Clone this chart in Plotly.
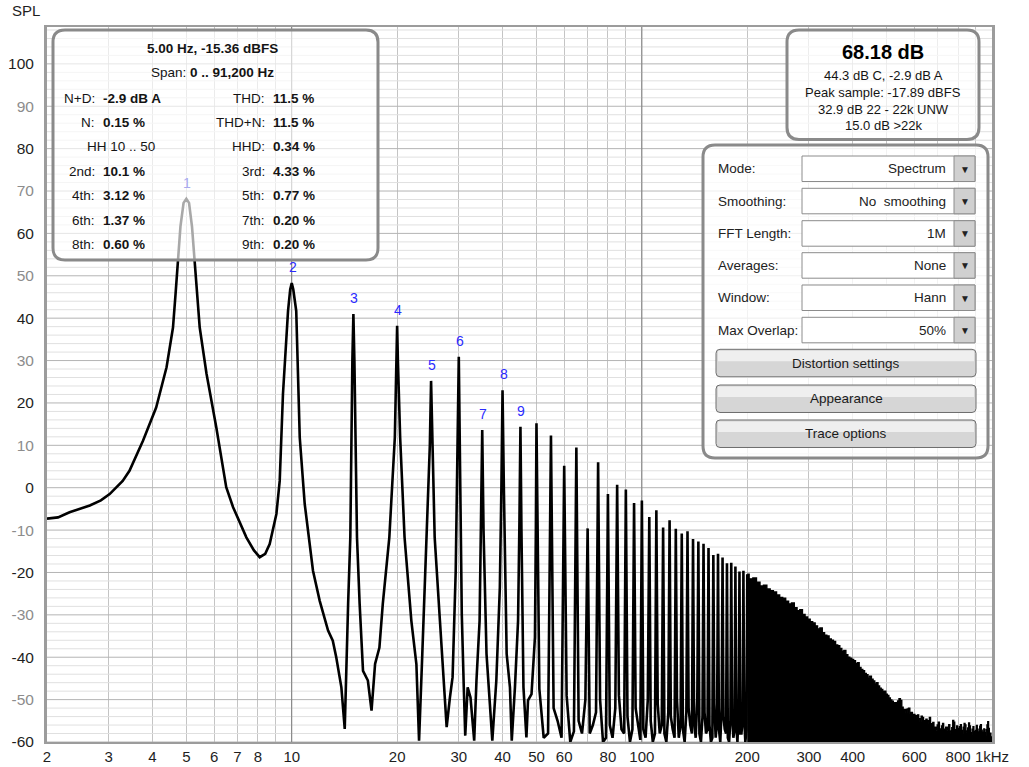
import math
import plotly.graph_objects as go

# ---------------- data ----------------
F0 = 5.0  # fundamental, Hz

# low-frequency part of the spectrum (2 .. 50 Hz), frequency in Hz, level in dB
lf_freq = [2.0, 2.15, 2.32, 2.65, 2.85, 3.02, 3.29, 3.44, 3.76, 4.10, 4.39, 4.58, 4.66, 4.73,
           4.81, 4.91, 5.0, 5.09, 5.19, 5.28, 5.37, 5.46, 5.71, 6.09, 6.5, 6.8, 7.42, 7.8,
           8.1, 8.4, 8.65, 9.04, 9.24, 9.44, 9.76, 9.9, 10.0, 10.1, 10.3, 10.54, 10.89, 11.5,
           12.02, 12.7, 13.1, 13.4, 13.86, 14.17, 14.49, 14.7, 14.9, 15.0, 15.1, 15.36, 15.63,
           15.98, 16.5, 16.9, 17.3, 17.8, 18.2, 19.0, 19.7, 19.9, 20.0, 20.1, 20.4, 21.0, 21.96,
           22.7, 23.1, 23.6, 24.2, 24.8, 25.0, 25.2, 25.6, 26.5, 27.1, 27.7, 28.3, 28.8, 29.4,
           29.75, 30.0, 30.25, 30.6, 31.0, 31.3, 31.8, 32.4, 33.2, 33.7, 34.4, 34.75, 35.0,
           35.3, 36.0, 36.8, 37.4, 38.4, 39.3, 39.7, 40.0, 40.35, 41.1, 42.0, 42.5, 43.4,
           44.3, 44.7, 45.0, 45.3, 45.9, 46.8, 47.3, 48.4, 49.5, 49.8]
lf_db = [-7.3, -7.0, -5.8, -4.2, -3.0, -1.5, 1.6, 4.0, 11.1, 18.9, 28.4, 37.8, 45.9, 53.5,
         61.6, 67.2, 68.18, 67.2, 61.6, 53.5, 45.0, 37.8, 26.9, 14.2, 0.1, -4.6, -11.7, -14.8,
         -16.4, -15.6, -13.3, -6.2, 1.6, 22.1, 41.7, 46.8, 48.3, 46.8, 41.7, 11.9, -3.8, -19.6,
         -26.7, -33.7, -36.1, -40.0, -47.1, -56.9, -27.4, -11.7, 30.0, 41.0, 30.0, -11.7, -27.4,
         -43.2, -45.5, -52.6, -41.6, -37.7, -27.4, -11.7, 11.9, 30.0, 38.2, 30.0, 11.9, -11.7,
         -31.4, -41.6, -59.7, -39.2, -11.7, 10.0, 25.2, 10.0, -11.7, -31.4, -43.2, -56.5, -49.5,
         -44.7, -19.6, 5.0, 30.9, 5.0, -30.0, -47.1, -58.5, -47.1, -49.5, -59.7, -45.5, -31.4,
         -5.0, 13.6, -10.0, -39.2, -51.0, -59.7, -45.5, -23.5, 0.0, 23.0, 0.0, -39.2, -47.1,
         -59.7, -47.1, -31.4, -8.0, 14.4, -10.0, -47.1, -58.9, -50.2, -48.7, -35.3, -10.0]

# harmonic peaks n = 10 .. 40 (50 .. 200 Hz), dB
mid_peak_db = [15.2, 12.3, 5.2, 9.5, -9.6, 6.0, -1.5, 0.7, -0.4, -3.6,
               -3.0, -6.9, -5.3, -9.4, -7.7, -9.7, -10.8, -10.3, -12.1, -12.7,
               -13.2, -14.2, -15.9, -15.6, -16.5, -17.8, -17.7, -18.6, -19.8, -19.6,
               -20.4]
# noise floor between harmonics n and n+1 (n = 10 .. 39), three readings per gap, dB
floor_a = [-47.5, -52, -49, -55, -58, -50, -56, -49, -54, -52,
           -57, -55, -51, -58, -54, -50, -57, -52, -55, -58,
           -53, -56, -51, -57, -54, -59, -53, -56, -58, -54]
floor_m = [-59, -55, -60, -58, -56, -60, -59, -57, -60, -56,
           -59, -60, -58, -60, -57, -59, -60, -56, -59, -60,
           -58, -60, -59, -60, -57, -60, -59, -60, -58, -60]
floor_b = [-58, -59, -57.5, -50, -53, -59, -52, -58, -57, -59.5,
           -50, -58, -56, -53, -59, -56, -53, -58, -50, -54,
           -57, -59, -55, -52, -58, -55, -57, -52, -55, -57]
# top of the dense harmonic block, harmonics n = 41 .. 200 (205 .. 1000 Hz), dB
env_db = [-21.5, -21.3, -22.3, -23.2, -23.0, -23.9, -24.3, -24.6, -25.3, -25.9,
          -26.1, -26.8, -27.4, -27.2, -28.3, -29.0, -28.8, -29.9, -30.5, -31.0,
          -31.6, -31.9, -32.6, -33.3, -33.1, -34.2, -34.8, -35.0, -35.7, -36.0,
          -36.3, -37.1, -37.3, -37.9, -38.6, -38.4, -39.4, -40.0, -40.2, -40.5,
          -40.8, -41.5, -41.3, -42.4, -42.9, -43.2, -43.8, -44.1, -44.7, -44.5,
          -45.2, -45.6, -46.3, -46.0, -46.8, -47.3, -47.6, -48.1, -48.0, -48.7,
          -49.0, -49.6, -50.1, -50.4, -51.0, -50.7, -51.5, -50.3, -49.8, -50.2,
          -51.8, -52.6, -52.3, -53.2, -52.2, -52.0, -53.4, -53.0, -54.1, -53.5,
          -54.3, -53.8, -53.6, -54.5, -55.2, -53.9, -54.2, -55.6, -55.0, -54.6,
          -55.8, -55.0, -54.2, -55.7, -56.3, -55.4, -56.8, -56.5, -57.2, -56.0,
          -55.3, -56.9, -57.5, -56.2, -55.6, -57.0, -57.8, -56.5, -57.2, -56.5,
          -55.9, -57.4, -58.0, -56.6, -54.9, -55.3, -57.1, -57.6, -56.2, -56.8,
          -57.5, -56.4, -55.9, -57.3, -58.1, -56.5, -55.6, -56.0, -57.4, -57.9,
          -56.7, -55.5, -56.2, -57.8, -58.3, -57.0, -56.4, -57.5, -58.2, -57.3,
          -56.1, -57.0, -58.4, -57.6, -56.3, -55.9, -57.2, -58.0, -57.7, -56.9,
          -57.8, -58.5, -57.1, -56.0, -55.2, -56.8, -58.6, -57.9, -58.8, -59.5]

x_labeled = {2: "2", 3: "3", 4: "4", 5: "5", 6: "6", 7: "7", 8: "8", 10: "10", 20: "20",
             30: "30", 40: "40", 50: "50", 60: "60", 80: "80", 100: "100", 200: "200",
             300: "300", 400: "400", 600: "600", 800: "800", 1000: "1kHz"}
Y_MIN, Y_MAX = -60, 108.7
X_MIN, X_MAX = 2, 1000

panel1_title = "5.00 Hz, -15.36 dBFS"
panel1_span = ("Span:", "0 .. 91,200 Hz")
panel1_rows = [("N+D:", "-2.9 dB A", "THD:", "11.5 %"),
               ("N:", "0.15 %", "THD+N:", "11.5 %"),
               ("HH 10 .. 50", None, "HHD:", "0.34 %"),
               ("2nd:", "10.1 %", "3rd:", "4.33 %"),
               ("4th:", "3.12 %", "5th:", "0.77 %"),
               ("6th:", "1.37 %", "7th:", "0.20 %"),
               ("8th:", "0.60 %", "9th:", "0.20 %")]
panel2_big = "68.18 dB"
panel2_lines = ["44.3 dB C, -2.9 dB A", "Peak sample: -17.89 dBFS",
                "32.9 dB 22 - 22k UNW", "15.0 dB >22k"]
controls = [("Mode:", "Spectrum"), ("Smoothing:", "No  smoothing"), ("FFT Length:", "1M"),
            ("Averages:", "None"), ("Window:", "Hann"), ("Max Overlap:", "50%")]
buttons = ["Distortion settings", "Appearance", "Trace options"]

# ---------------- layout geometry (pixels) ----------------
W, H = 1029, 767
PL, PR, PT, PB = 47, 992, 27, 742
FONT = "Liberation Sans, Arial, sans-serif"


def xp(px):
    return (px - PL) / (PR - PL)


def yp(py):
    return (PB - py) / (PB - PT)


def rrect(x0, y0, x1, y1, r):
    pts = [("M", x0 + r, y0), ("L", x1 - r, y0), ("Q", x1, y0, x1, y0 + r),
           ("L", x1, y1 - r), ("Q", x1, y1, x1 - r, y1), ("L", x0 + r, y1),
           ("Q", x0, y1, x0, y1 - r), ("L", x0, y0 + r), ("Q", x0, y0, x0 + r, y0)]
    s = ""
    for p in pts:
        cmd, coords = p[0], p[1:]
        pairs = [f"{xp(coords[i]):.5f},{yp(coords[i + 1]):.5f}" for i in range(0, len(coords), 2)]
        s += cmd + " " + " ".join(pairs) + " "
    return s + "Z"


# ---------------- build traces ----------------
fig = go.Figure()

# minor horizontal grid (every 2 dB) and major (every 10 dB)
gx, gy, mx, my = [], [], [], []
for v in range(-60, 109, 2):
    if v % 10 == 0:
        mx += [X_MIN, X_MAX, None]
        my += [v, v, None]
    else:
        gx += [X_MIN, X_MAX, None]
        gy += [v, v, None]
fig.add_trace(go.Scatter(x=gx, y=gy, mode="lines", line=dict(color="#e0e0e0", width=1),
                         hoverinfo="skip", showlegend=False))
fig.add_trace(go.Scatter(x=mx, y=my, mode="lines", line=dict(color="#b4b4b4", width=1),
                         hoverinfo="skip", showlegend=False))
# darker decade lines
fig.add_trace(go.Scatter(x=[10, 10, None, 100, 100], y=[Y_MIN, Y_MAX, None, Y_MIN, Y_MAX],
                         mode="lines", line=dict(color="#7c7c7c", width=1),
                         hoverinfo="skip", showlegend=False))

# spectrum line up to 200 Hz
xa, ya = list(lf_freq), list(lf_db)
for i, n in enumerate(range(10, 40)):
    f0, f1 = F0 * n, F0 * (n + 1)
    r = f1 / f0
    xa += [f0, f0 * r ** 0.2, f0 * r ** 0.5, f0 * r ** 0.8]
    ya += [mid_peak_db[i], floor_a[i], floor_m[i], floor_b[i]]
xa.append(F0 * 40)
ya.append(mid_peak_db[-1])
fig.add_trace(go.Scatter(x=xa, y=ya, mode="lines", line=dict(color="black", width=2.6),
                         hoverinfo="skip", showlegend=False))

# dense harmonic block 200 Hz .. 1 kHz
xd = [F0 * 40] + [F0 * n for n in range(41, 41 + len(env_db))]
yd = [mid_peak_db[-1]] + env_db
fig.add_trace(go.Scatter(x=[xd[0], xd[-1]], y=[Y_MIN - 1, Y_MIN - 1], mode="lines",
                         line=dict(color="black", width=0), hoverinfo="skip", showlegend=False))
fig.add_trace(go.Scatter(x=xd, y=yd, mode="lines", line=dict(color="black", width=1.4, shape="hvh"),
                         fill="tonexty", fillcolor="black", hoverinfo="skip", showlegend=False))

# ---------------- axes ----------------
xtv, xtt = [], []
for dec in (1, 10, 100):
    for m in range(1, 10):
        v = m * dec
        if 2 <= v <= 1000:
            xtv.append(v)
            xtt.append(x_labeled.get(v, ""))
xtv.append(1000)
xtt.append(x_labeled[1000])

ytv = list(range(-60, 101, 10))
ytt = [f"<span style='color:{'#1e1e1e' if v % 20 == 0 else '#8c8c8c'}'>{v}</span>" for v in ytv]

fig.update_xaxes(type="log", range=[math.log10(X_MIN), math.log10(X_MAX)], tickmode="array",
                 tickvals=xtv, ticktext=xtt, showgrid=True, gridcolor="#c4c4c4", gridwidth=1,
                 zeroline=False, showline=True, mirror=True, linecolor="#9c9c9c", linewidth=2,
                 ticks="", automargin=False, tickfont=dict(family=FONT, size=15, color="#1e1e1e"))
fig.update_yaxes(range=[Y_MIN, Y_MAX], tickmode="array", tickvals=ytv, ticktext=ytt,
                 showgrid=False, zeroline=False, showline=True, mirror=True, automargin=False,
                 linecolor="#9c9c9c", linewidth=3, ticks="", ticklabelstandoff=7,
                 tickfont=dict(family=FONT, size=15.5, color="#1e1e1e"))

shapes, ann = [], []

# ---------------- panels ----------------
PANEL_LINE = "#8a8a8a"
shapes.append(dict(type="path", xref="paper", yref="paper", path=rrect(53, 30, 378, 260, 12),
                   fillcolor="rgba(255,255,255,0.66)", line=dict(color=PANEL_LINE, width=3),
                   layer="above"))
shapes.append(dict(type="path", xref="paper", yref="paper", path=rrect(787, 30, 979, 139.5, 12),
                   fillcolor="rgba(255,255,255,0.7)", line=dict(color=PANEL_LINE, width=3),
                   layer="above"))
shapes.append(dict(type="path", xref="paper", yref="paper", path=rrect(703, 145, 988, 458, 12),
                   fillcolor="rgba(255,255,255,0.78)", line=dict(color=PANEL_LINE, width=3),
                   layer="above"))


def text(x, y, s, size=13.5, anchor="center", color="#141414"):
    ann.append(dict(xref="paper", yref="paper", x=xp(x), y=yp(y), text=s, showarrow=False,
                    xanchor=anchor, yanchor="middle", font=dict(family=FONT, size=size, color=color)))


# panel 1
text(212, 48, f"<b>{panel1_title}</b>")
text(212, 72.5, f"{panel1_span[0]} <b>{panel1_span[1]}</b>")
row_y = [98, 122, 146.5, 171.5, 196, 220.5, 245]
for (l1, v1, l2, v2), y in zip(panel1_rows, row_y):
    if v1 is None:
        text(121, y, l1)
    else:
        text(97, y, l1, anchor="right")
        text(101, y, f"<b>{v1}</b>", anchor="left")
    text(267, y, l2, anchor="right")
    text(271, y, f"<b>{v2}</b>", anchor="left")

# panel 2
text(883, 52, f"<b>{panel2_big}</b>", size=20, color="#000000")
for s, y in zip(panel2_lines, [75, 92.5, 109.3, 126]):
    text(883, y, s, size=13)

# panel 3 : controls
box_top = [156, 188.3, 220.7, 252.7, 285, 317.3]
for (lab, val), yt in zip(controls, box_top):
    yb = yt + 25.5
    yc = (yt + yb) / 2
    shapes.append(dict(type="rect", xref="paper", yref="paper", x0=xp(802), x1=xp(975),
                       y0=yp(yb), y1=yp(yt), fillcolor="white", line=dict(color="#8c8c8c", width=1),
                       layer="above"))
    shapes.append(dict(type="rect", xref="paper", yref="paper", x0=xp(954), x1=xp(975),
                       y0=yp(yb), y1=yp(yt), fillcolor="#d0d0d0", line=dict(color="#8c8c8c", width=1),
                       layer="above"))
    text(716, yc, lab, anchor="left", color="#222222")
    text(948, yc, val, anchor="right", color="#222222")
    text(964.5, yc + 0.5, "▼", size=10, color="#222222")

btn_top = [349.3, 385, 420]
for s, yt in zip(buttons, btn_top):
    yb = yt + 27.5
    shapes.append(dict(type="path", xref="paper", yref="paper", path=rrect(716, yt, 976, yb, 4),
                       fillcolor="#d6d6d6", line=dict(color="#6e6e6e", width=1), layer="above"))
    shapes.append(dict(type="rect", xref="paper", yref="paper", x0=xp(718), x1=xp(974),
                       y0=yp(yt + 12), y1=yp(yt + 1.5), fillcolor="rgba(255,255,255,0.6)",
                       line=dict(width=0), layer="above"))
    text(846, (yt + yb) / 2, s, color="#1a1a1a")

# harmonic numbers above the first nine peaks
for n in range(1, 10):
    fh = F0 * n
    pk = max(d for f, d in zip(lf_freq, lf_db) if abs(f - fh) < 1.0)
    ann.append(dict(x=math.log10(fh), y=pk, xref="x", yref="y", text=str(n), showarrow=False,
                    yshift=16, xshift=1, font=dict(family=FONT, size=14,
                                                   color="#a9a9ee" if n == 1 else "#2b2bff")))

# axis title
text(10, 11, "SPL", size=15, anchor="left", color="#1e1e1e")

fig.update_layout(width=W, height=H, margin=dict(l=PL, r=W - PR, t=PT, b=H - PB),
                  paper_bgcolor="white", plot_bgcolor="white", shapes=shapes, annotations=ann,
                  showlegend=False, font=dict(family=FONT))
fig.write_html("out.html")
